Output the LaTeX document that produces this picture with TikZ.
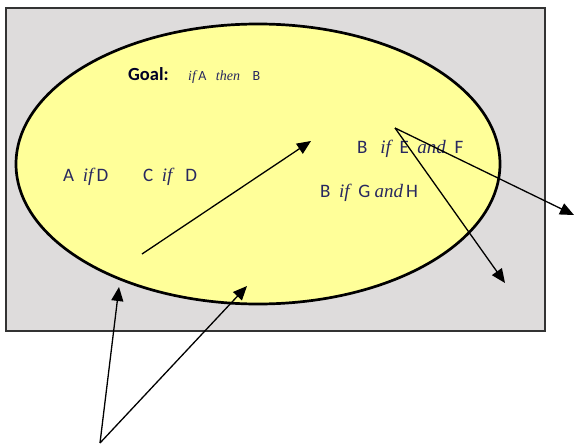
\documentclass[tikz,border=0pt]{standalone}
\usepackage{fontspec}
\setmainfont{Carlito}
\newfontfamily\connfont{Liberation Serif}
\usetikzlibrary{arrows.meta}
\definecolor{panelgray}{RGB}{222,220,220}
\definecolor{goalyellow}{RGB}{255,255,153}
\definecolor{rulenavy}{RGB}{40,40,95}
\newcommand{\conn}[1]{{\connfont\itshape #1}}
\tikzset{
  rule/.style={anchor=base west,inner sep=0pt,text=rulenavy,
    font=\fontsize{19}{22}\selectfont},
  goalrule/.style={anchor=base west,inner sep=0pt,text=rulenavy,
    font=\fontsize{14}{17}\selectfont},
  pointer/.style={-{Triangle[length=14pt,width=12pt]},line width=1.3pt,black}
}

\begin{document}
\begin{tikzpicture}[x=1pt,y=-1pt]
  \useasboundingbox (0,0) rectangle (574,447);
  \draw[fill=panelgray,draw=black!80,line width=1.5pt] (6,8) rectangle (545,331);
  \draw[fill=goalyellow,line width=2.7pt] (258,164) ellipse [x radius=242,y radius=140];
  % texts
  \node[anchor=base west,inner sep=0pt,font=\fontsize{18.5}{22}\selectfont\bfseries,
    text=black!85!blue] (goal) at (128,80) {Goal:};
  \node[goalrule] (goalif) at (188,80) {\conn{if}\,A\ \ \ \conn{then}\ \ \ \ B};
  \node[rule] (aifd) at (63,181) {A\ \ \conn{if}\,D};
  \node[rule] (cifd) at (143,181) {C\ \ \conn{if}\ \ \ D};
  \node[rule] (bife) at (357,153) {B\ \ \ \conn{if}\ \ E\ \ \conn{and}\ \ F};
  \node[rule] (bifg) at (320,197) {B\ \ \conn{if}\ \ G\ \conn{and}\,H};
  % arrow ends
  \coordinate (innerstart) at (142,254);
  \coordinate (innertip) at (311,141);
  \coordinate (fork) at (395,128);
  \coordinate (righttip) at (574,215);
  \coordinate (lowtip) at (505,283);
  \coordinate (base) at (100,443);
  \coordinate (edgetip) at (119,287);
  \coordinate (bottomtip) at (247,286);
  % arrows
  \draw[pointer] (innerstart) -- (innertip);
  \draw[pointer] (fork) -- (righttip);
  \draw[pointer] (fork) -- (lowtip);
  \draw[pointer] (base) -- (edgetip);
  \draw[pointer] (base) -- (bottomtip);
\end{tikzpicture}
\end{document}
